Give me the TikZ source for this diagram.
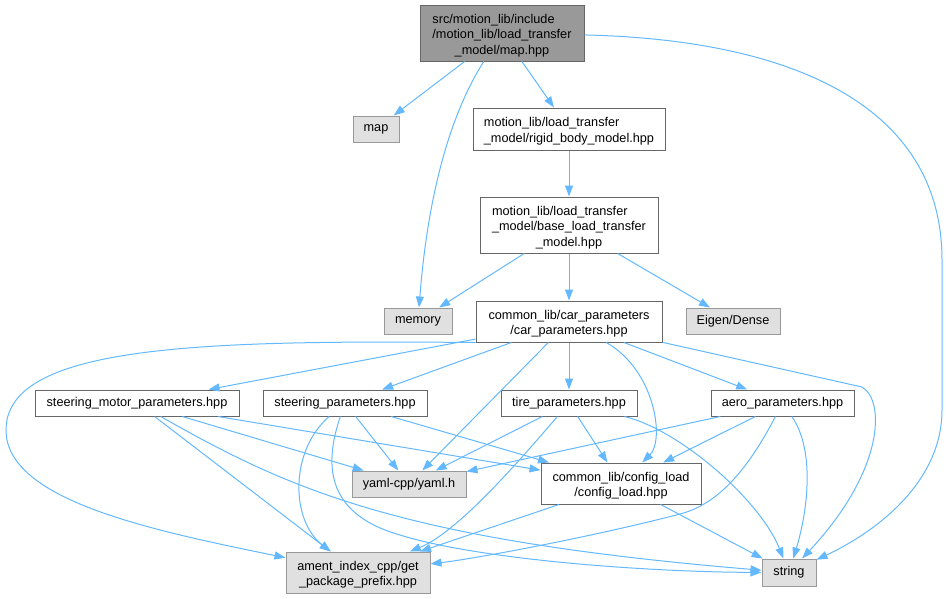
\documentclass[tikz,border=0pt]{standalone}
\usepackage{fontspec}
\setmainfont{Liberation Sans}
\usetikzlibrary{arrows.meta}
\definecolor{edgeblue}{HTML}{63B8FF}
\definecolor{darkline}{HTML}{666666}
\definecolor{midgray}{HTML}{999999}
\definecolor{extfill}{HTML}{E0E0E0}
\newcommand\lblii[2]{\raisebox{-2.5pt}[\height][\depth]{\begin{tabular}{@{}l@{}}#1\\\multicolumn{1}{@{}c@{}}{#2}\end{tabular}}}
\newcommand\lbliii[3]{\raisebox{-2.5pt}[\height][\depth]{\begin{tabular}{@{}l@{}}#1\\#2\\\multicolumn{1}{@{}c@{}}{#3}\end{tabular}}}
\begin{document}
\begin{tikzpicture}[x=1pt,y=-1pt,
  box/.style={draw=darkline, fill=white, line width=1pt, inner sep=0pt,
    font=\fontsize{12.7}{15.5}\selectfont, text=black},
  extbox/.style={box, draw=midgray, fill=extfill},
  rootbox/.style={box, draw=darkline, fill=midgray},
  dep/.style={draw=edgeblue, line width=1pt, -{Triangle[length=11pt,width=8pt]}}
]
\useasboundingbox (0,0) rectangle (946,598);

\node[rootbox, minimum width=164pt, minimum height=56pt] (root) at (502,33)
  {\lbliii{src/motion\_lib/include}{/motion\_lib/load\_transfer}{\_model/map.hpp}};
\node[extbox, minimum width=46pt, minimum height=26pt] (map) at (376,129) {map};
\node[box, minimum width=192pt, minimum height=42pt] (rigid) at (569,129)
  {\lblii{motion\_lib/load\_transfer}{\_model/rigid\_body\_model.hpp}};
\node[box, minimum width=178pt, minimum height=56pt] (base) at (569,225)
  {\lbliii{motion\_lib/load\_transfer}{\_model/base\_load\_transfer}{\_model.hpp}};
\node[extbox, minimum width=68pt, minimum height=26pt] (memory) at (418,321) {memory};
\node[box, minimum width=186pt, minimum height=41pt] (car) at (569,321.5)
  {\lblii{common\_lib/car\_parameters}{/car\_parameters.hpp}};
\node[extbox, minimum width=94pt, minimum height=26pt] (eigen) at (733,321) {Eigen/Dense};
\node[box, minimum width=204pt, minimum height=26pt] (sm) at (137,403) {steering\_motor\_parameters.hpp};
\node[box, minimum width=164pt, minimum height=26pt] (sp) at (345,403) {steering\_parameters.hpp};
\node[box, minimum width=136pt, minimum height=26pt] (tire) at (569,403) {tire\_parameters.hpp};
\node[box, minimum width=143pt, minimum height=26pt] (aero) at (782.5,403) {aero\_parameters.hpp};
\node[extbox, minimum width=114pt, minimum height=26pt] (yaml) at (409,484) {yaml-cpp/yaml.h};
\node[box, minimum width=160pt, minimum height=41pt] (config) at (621,483.5)
  {\lblii{common\_lib/config\_load}{/config\_load.hpp}};
\node[extbox, minimum width=144pt, minimum height=41pt] (ament) at (358,572.5)
  {\lblii{ament\_index\_cpp/get}{\_package\_prefix.hpp}};
\node[extbox, minimum width=54pt, minimum height=27pt] (string) at (789,572.5) {string};

% root
\draw[dep] (root) -- (map);
\draw[dep] (root) .. controls (440,130) and (425,230) .. (memory);
\draw[dep] (root) -- (rigid);
\draw[dep] (root) .. controls (800,40) and (942,110) .. (942,260) -- (942,410)
  .. controls (942,480) and (880,530) .. (string);
% rigid, base
\draw[dep] (rigid) -- (base);
\draw[dep] (base) -- (memory);
\draw[dep] (base) -- (car);
\draw[dep] (base) -- (eigen);
% car
\draw[dep] (car.south west) .. controls (200,340) and (6,345) .. (6,430)
  .. controls (6,500) and (150,530) .. (ament);
\draw[dep] (car) -- (sm);
\draw[dep] (car) -- (sp);
\draw[dep] (car) -- (yaml);
\draw[dep] (car) -- (tire);
\draw[dep] (car) .. controls (655,370) and (665,440) .. (config);
\draw[dep] (car) -- (aero);
\draw[dep] (car) -- (862,387) .. controls (885,400) and (885,470) .. (string);
% steering motor
\draw[dep] (sm) -- (yaml);
\draw[dep] (sm) -- (config);
\draw[dep] (sm) -- (ament);
\draw[dep] (sm) .. controls (290,490) and (400,540) .. (string);
% steering params
\draw[dep] (sp) -- (yaml);
\draw[dep] (sp) -- (config);
\draw[dep] (sp) .. controls (290,450) and (290,520) .. (ament);
\draw[dep] (sp) .. controls (322,470) and (330,515) .. (400,535)
  .. controls (480,560) and (650,572) .. (string);
% tire
\draw[dep] (tire) -- (yaml);
\draw[dep] (tire) -- (config);
\draw[dep] (tire) .. controls (520,460) and (458,532) .. (ament);
\draw[dep] (tire) .. controls (680,430) and (760,500) .. (string);
% aero
\draw[dep] (aero) -- (yaml);
\draw[dep] (aero) -- (config);
\draw[dep] (aero) .. controls (745,475) and (715,505) .. (680,514)
  .. controls (600,535) and (480,558) .. (ament);
\draw[dep] (aero) .. controls (815,450) and (808,510) .. (string);
% config
\draw[dep] (config) -- (ament);
\draw[dep] (config) -- (string);
\end{tikzpicture}
\end{document}
